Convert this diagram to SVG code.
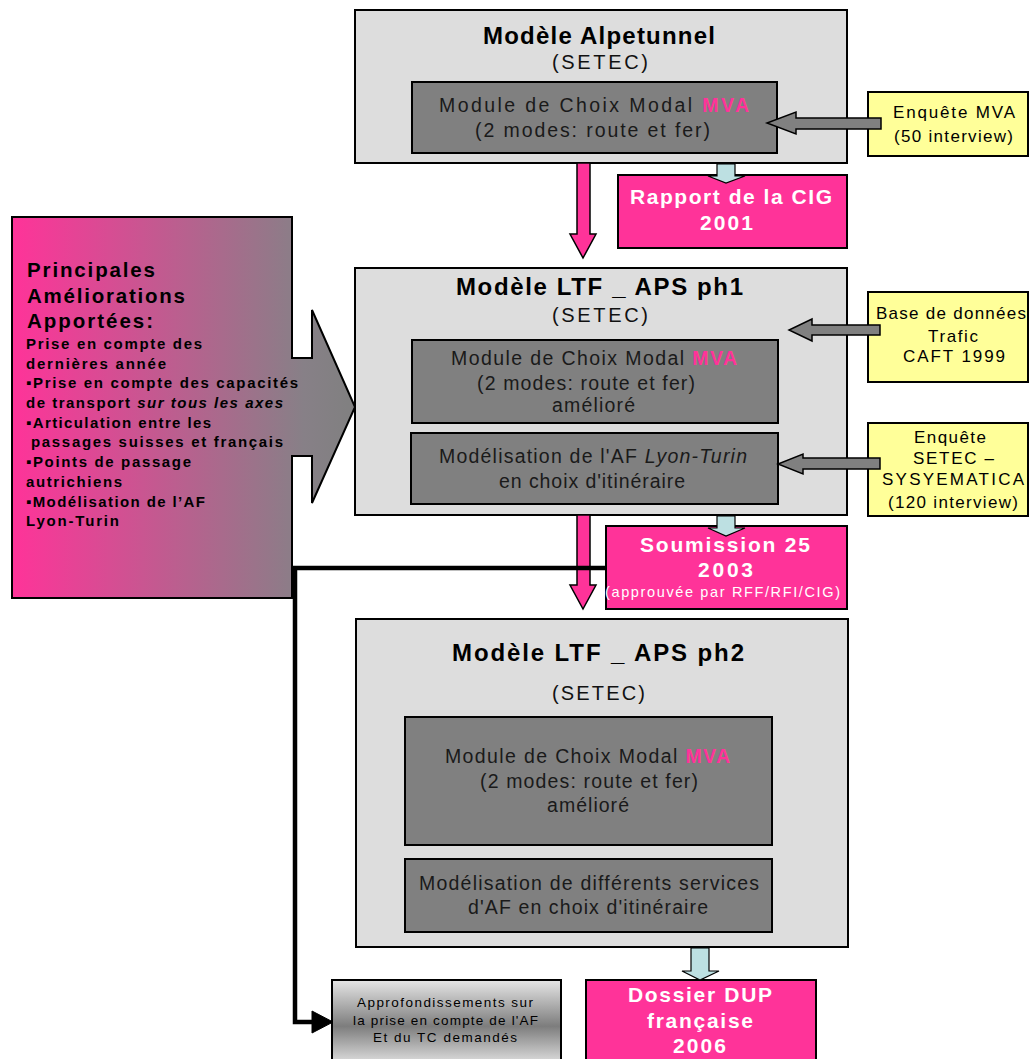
<svg xmlns="http://www.w3.org/2000/svg" width="1029" height="1059" viewBox="0 0 1029 1059">
<defs>
<style>
text{font-family:"Liberation Sans",Arial,sans-serif;}
.outer{fill:#dddddd;stroke:#000;stroke-width:2;}
.inner{fill:#808080;stroke:#000;stroke-width:2;}
.yel{fill:#ffff99;stroke:#000;stroke-width:2;}
.pink{fill:#ff3399;stroke:#000;stroke-width:2;}
.title{font-size:24px;font-weight:bold;fill:#000;}
.setec{font-size:20px;fill:#111;}
.mod{font-size:19.5px;fill:#1a1a1a;}
.mva{fill:#ff3399;font-weight:bold;}
.ytxt{font-size:17px;fill:#000;}
.ptxt{font-size:21px;font-weight:bold;fill:#fff;}
.psmall{font-size:14.5px;fill:#fff;}
.lhead{font-size:20.5px;font-weight:bold;fill:#000;}
.lli{font-size:15px;font-weight:bold;fill:#000;}
.atxt{font-size:13.5px;fill:#000;}
.parrow{fill:#ff3399;stroke:#000;stroke-width:1.5;}
.garrow{fill:#808080;stroke:#000;stroke-width:1.5;}
.barrow{fill:#bde0e2;stroke:#000;stroke-width:1.2;}
</style>
<linearGradient id="leftGrad" gradientUnits="userSpaceOnUse" x1="12" y1="0" x2="355" y2="0">
<stop offset="0" stop-color="#ff3399"/>
<stop offset="0.85" stop-color="#878087"/>
<stop offset="1" stop-color="#808080"/>
</linearGradient>
<linearGradient id="apGrad" gradientUnits="userSpaceOnUse" x1="0" y1="980" x2="0" y2="1064">
<stop offset="0" stop-color="#e6e6e6"/>
<stop offset="0.55" stop-color="#7d7d7d"/>
<stop offset="1" stop-color="#e0e0e0"/>
</linearGradient>
</defs>

<g id="left-improvements">
<path d="M12,217 H292 V358 H312 V310 L355,407 L312,503 V456 H292 V598 H12 Z" fill="url(#leftGrad)" stroke="#000" stroke-width="2"/>
<text class="lhead" x="27" y="277" textLength="128" lengthAdjust="spacing">Principales</text>
<text class="lhead" x="27" y="303" textLength="158" lengthAdjust="spacing">Améliorations</text>
<text class="lhead" x="27" y="328" textLength="126" lengthAdjust="spacing">Apportées:</text>
<text class="lli" x="26" y="349" textLength="176" lengthAdjust="spacing">Prise en compte des</text>
<text class="lli" x="26" y="369" textLength="140" lengthAdjust="spacing">dernières année</text>
<text class="lli" x="26" y="388" textLength="272" lengthAdjust="spacing">▪Prise en compte des capacités</text>
<text class="lli" x="26" y="408" textLength="257" lengthAdjust="spacing">de transport <tspan font-style="italic">sur tous les axes</tspan></text>
<text class="lli" x="26" y="428" textLength="185" lengthAdjust="spacing">▪Articulation entre les</text>
<text class="lli" x="31" y="447" textLength="252" lengthAdjust="spacing">passages suisses et français</text>
<text class="lli" x="26" y="467" textLength="165" lengthAdjust="spacing">▪Points de passage</text>
<text class="lli" x="26" y="487" textLength="96" lengthAdjust="spacing">autrichiens</text>
<text class="lli" x="26" y="507" textLength="179" lengthAdjust="spacing">▪Modélisation de l’AF</text>
<text class="lli" x="26" y="526" textLength="93" lengthAdjust="spacing">Lyon-Turin</text>
</g>

<g id="alpetunnel">
<rect class="outer" x="355" y="10" width="492" height="153"/>
<text class="title" x="483" y="44" textLength="232" lengthAdjust="spacing">Modèle Alpetunnel</text>
<text class="setec" x="552" y="69" textLength="96" lengthAdjust="spacing">(SETEC)</text>
<rect class="inner" x="412" y="82" width="365" height="71"/>
<text class="mod" x="439" y="112" textLength="310" lengthAdjust="spacing">Module de Choix Modal <tspan class="mva">MVA</tspan></text>
<text class="mod" x="475" y="137" textLength="235" lengthAdjust="spacing">(2 modes: route et fer)</text>
</g>

<g id="enquete-mva">
<rect class="yel" x="868" y="92" width="160" height="64"/>
<text class="ytxt" x="893" y="118" textLength="122" lengthAdjust="spacing">Enquête MVA</text>
<text class="ytxt" x="894" y="142" textLength="119" lengthAdjust="spacing">(50 interview)</text>
</g>

<g id="rapport-cig">
<rect class="pink" x="618" y="175" width="229" height="73"/>
<text class="ptxt" x="630" y="204" textLength="202" lengthAdjust="spacing">Rapport de la CIG</text>
<text class="ptxt" x="700" y="230" textLength="53" lengthAdjust="spacing">2001</text>
</g>

<g id="ltf-ph1">
<rect class="outer" x="355" y="268" width="492" height="247"/>
<text class="title" x="456" y="295" textLength="287" lengthAdjust="spacing">Modèle LTF _ APS ph1</text>
<text class="setec" x="552" y="322" textLength="96" lengthAdjust="spacing">(SETEC)</text>
<rect class="inner" x="412" y="340" width="366" height="83"/>
<text class="mod" x="451" y="365" textLength="286" lengthAdjust="spacing">Module de Choix Modal <tspan class="mva">MVA</tspan></text>
<text class="mod" x="477" y="390" textLength="218" lengthAdjust="spacing">(2 modes: route et fer)</text>
<text class="mod" x="552" y="412" textLength="83" lengthAdjust="spacing">amélioré</text>
<rect class="inner" x="411" y="433" width="367" height="71"/>
<text class="mod" x="439" y="463" textLength="308" lengthAdjust="spacing">Modélisation de l'AF <tspan font-style="italic">Lyon-Turin</tspan></text>
<text class="mod" x="499" y="488" textLength="186" lengthAdjust="spacing">en choix d'itinéraire</text>
</g>

<g id="base-donnees">
<rect class="yel" x="868" y="292" width="160" height="90"/>
<text class="ytxt" x="876" y="319" textLength="150" lengthAdjust="spacing">Base de données</text>
<text class="ytxt" x="928" y="342" textLength="50" lengthAdjust="spacing">Trafic</text>
<text class="ytxt" x="903" y="362" textLength="102" lengthAdjust="spacing">CAFT 1999</text>
</g>

<g id="enquete-setec">
<rect class="yel" x="868" y="423" width="160" height="93"/>
<text class="ytxt" x="914" y="443" textLength="72" lengthAdjust="spacing">Enquête</text>
<text class="ytxt" x="913" y="464" textLength="81" lengthAdjust="spacing">SETEC –</text>
<text class="ytxt" x="882" y="485" textLength="142" lengthAdjust="spacing">SYSYEMATICA</text>
<text class="ytxt" x="888" y="508" textLength="130" lengthAdjust="spacing">(120 interview)</text>
</g>

<g id="soumission">
<rect class="pink" x="606" y="526" width="241" height="83"/>
<text class="ptxt" x="640" y="552" textLength="170" lengthAdjust="spacing">Soumission 25</text>
<text class="ptxt" x="698" y="577" textLength="55" lengthAdjust="spacing">2003</text>
<text class="psmall" x="605" y="597" textLength="235" lengthAdjust="spacing">(approuvée par RFF/RFI/CIG)</text>
</g>

<g id="ltf-ph2">
<rect class="outer" x="356" y="619" width="492" height="328"/>
<text class="title" x="452" y="661" textLength="292" lengthAdjust="spacing">Modèle LTF _ APS ph2</text>
<text class="setec" x="552" y="700" textLength="93" lengthAdjust="spacing">(SETEC)</text>
<rect class="inner" x="405" y="717" width="367" height="128"/>
<text class="mod" x="445" y="763" textLength="285" lengthAdjust="spacing">Module de Choix Modal <tspan class="mva">MVA</tspan></text>
<text class="mod" x="480" y="788" textLength="218" lengthAdjust="spacing">(2 modes: route et fer)</text>
<text class="mod" x="547" y="812" textLength="82" lengthAdjust="spacing">amélioré</text>
<rect class="inner" x="405" y="859" width="367" height="73"/>
<text class="mod" x="419" y="890" textLength="340" lengthAdjust="spacing">Modélisation de différents services</text>
<text class="mod" x="468" y="914" textLength="240" lengthAdjust="spacing">d'AF en choix d'itinéraire</text>
</g>

<g id="approfondissements">
<rect x="332" y="980" width="229" height="90" fill="url(#apGrad)" stroke="#000" stroke-width="2"/>
<text class="atxt" x="357" y="1007" textLength="176" lengthAdjust="spacing">Approfondissements sur</text>
<text class="atxt" x="353" y="1025" textLength="185" lengthAdjust="spacing">la prise en compte de l'AF</text>
<text class="atxt" x="373" y="1042" textLength="144" lengthAdjust="spacing">Et du TC demandés</text>
</g>

<g id="dossier-dup">
<rect class="pink" x="586" y="980" width="230" height="90"/>
<text class="ptxt" x="628" y="1002" textLength="144" lengthAdjust="spacing">Dossier DUP</text>
<text class="ptxt" x="647" y="1028" textLength="106" lengthAdjust="spacing">française</text>
<text class="ptxt" x="673" y="1053" textLength="53" lengthAdjust="spacing">2006</text>
</g>

<g id="connectors">
<polygon class="parrow" points="577,163 590,163 590,234 596,234 583,258 570,234 577,234"/>
<polygon class="parrow" points="577,515 590,515 590,585 596,585 583,609 570,585 577,585"/>
<polygon class="garrow" points="881,118 796,118 796,112 767,123 796,134 796,129 881,129"/>
<polygon class="garrow" points="880,325 812,325 812,319 789,330 812,341 812,335 880,335"/>
<polygon class="garrow" points="880,458 803,458 803,454 778,464 803,474 803,469 880,469"/>
<polygon class="barrow" points="717,164 735,164 735,176 745,176 726,183 708,176 717,176"/>
<polygon class="barrow" points="717,516 735,516 735,528 745,528 726,536 708,528 717,528"/>
<polygon class="barrow" points="691,948 709,948 709,971 719,971 700,980 682,971 691,971"/>
<polyline points="606,568 295,568 295,1022 314,1022" fill="none" stroke="#000" stroke-width="4.5"/>
<polygon points="312,1011 333,1022 312,1033" fill="#000" stroke="#000" stroke-width="1"/>
</g>
</svg>
